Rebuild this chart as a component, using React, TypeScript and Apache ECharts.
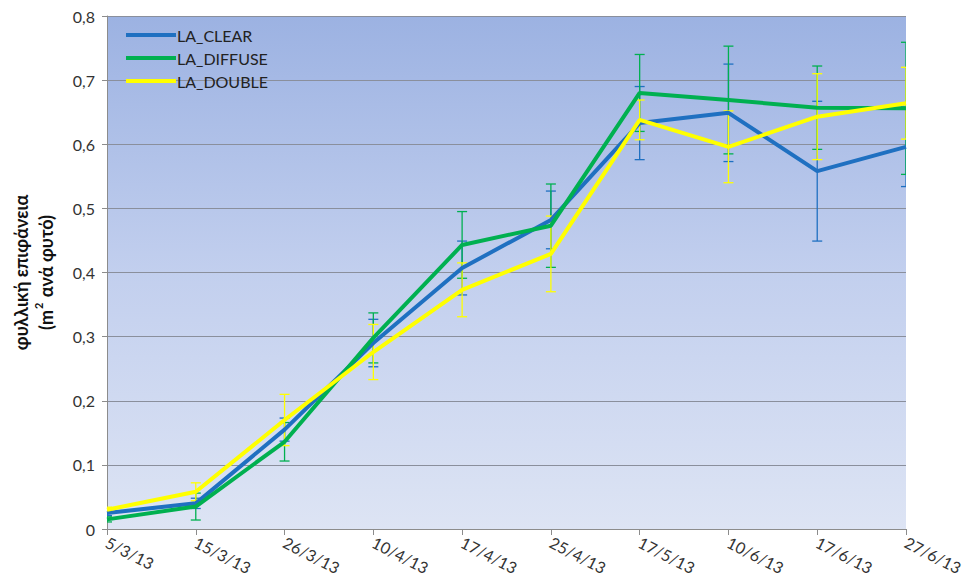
import React, { useEffect, useRef } from "react";
import * as echarts from "echarts";

const dates = ["5/3/13", "15/3/13", "26/3/13", "10/4/13", "17/4/13", "25/4/13", "17/5/13", "10/6/13", "17/6/13", "27/6/13"];
const laClear = [0.025, 0.04, 0.155, 0.29, 0.407, 0.482, 0.633, 0.649, 0.558, 0.596];
const laDiffuse = [0.015, 0.035, 0.136, 0.298, 0.443, 0.473, 0.68, 0.669, 0.657, 0.656];
const laDouble = [0.03, 0.058, 0.17, 0.276, 0.373, 0.429, 0.638, 0.596, 0.643, 0.664];
const errClear = [0.004, 0.008, 0.018, 0.037, 0.042, 0.045, 0.057, 0.076, 0.109, 0.062];
const errDiffuse = [0.004, 0.021, 0.03, 0.039, 0.052, 0.065, 0.06, 0.084, 0.065, 0.103];
const errDouble = [0.004, 0.014, 0.04, 0.043, 0.042, 0.059, 0.031, 0.056, 0.067, 0.056];
const yTicks = { min: 0, max: 0.8, interval: 0.1 };

const BLUE = "#1f70c1";
const GREEN = "#00b050";
const YELLOW = "#ffff00";

function errSeries(name: string, vals: number[], errs: number[], color: string) {
  return {
    type: "custom",
    name: name + "_err",
    clip: true,
    silent: true,
    encode: { x: 0, y: [1, 2] },
    data: vals.map((v, i) => [i, v - errs[i], v + errs[i]]),
    renderItem: (params: any, api: any) => {
      const x = api.value(0);
      const lo = api.coord([x, api.value(1)]);
      const hi = api.coord([x, api.value(2)]);
      const w = 5;
      const style = { stroke: color, lineWidth: 1.3 };
      return {
        type: "group",
        children: [
          { type: "line", shape: { x1: lo[0], y1: lo[1], x2: hi[0], y2: hi[1] }, style },
          { type: "line", shape: { x1: lo[0] - w, y1: lo[1], x2: lo[0] + w, y2: lo[1] }, style },
          { type: "line", shape: { x1: hi[0] - w, y1: hi[1], x2: hi[0] + w, y2: hi[1] }, style },
        ],
      };
    },
  };
}

function lineSeries(name: string, vals: number[], color: string) {
  return {
    type: "line",
    name,
    data: vals,
    symbol: "none",
    lineStyle: { color, width: 4 },
    itemStyle: { color },
  };
}

export default function App() {
  const ref = useRef<HTMLDivElement>(null);
  useEffect(() => {
    if (!ref.current) return;
    const chart = echarts.init(ref.current, undefined, { renderer: "svg" });
    const font = "Lato, 'Open Sans', sans-serif";
    chart.setOption({
      animation: false,
      textStyle: { fontFamily: font },
      grid: {
        left: 107,
        right: 61,
        top: 16,
        bottom: 54,
        show: true,
        borderWidth: 0,
        backgroundColor: new echarts.graphic.LinearGradient(0, 0, 0, 1, [
          { offset: 0, color: "#9cb2e2" },
          { offset: 0.5, color: "#c2cfee" },
          { offset: 1, color: "#dde4f4" },
        ]),
      },
      legend: {
        orient: "vertical",
        left: 121,
        top: 21,
        itemWidth: 50,
        itemHeight: 4,
        itemGap: 5,
        icon: "rect",
        data: ["LA_CLEAR", "LA_DIFFUSE", "LA_DOUBLE"],
        textStyle: { fontFamily: font, fontSize: 16, color: "#222", padding: [0, 0, 0, -4], lineHeight: 18 },
      },
      xAxis: {
        type: "category",
        data: dates,
        boundaryGap: false,
        axisLine: { lineStyle: { color: "#8c8c8c", width: 1 } },
        axisTick: { show: true, alignWithLabel: true, length: 6, lineStyle: { color: "#8c8c8c" } },
        axisLabel: { rotate: -27, fontSize: 16, color: "#333", margin: 12, fontFamily: font },
        splitLine: { show: false },
      },
      yAxis: {
        type: "value",
        min: yTicks.min,
        max: yTicks.max,
        interval: yTicks.interval,
        axisLine: { show: true, lineStyle: { color: "#8c8c8c" } },
        axisTick: { show: true, length: 5, lineStyle: { color: "#8c8c8c" } },
        axisLabel: {
          fontSize: 16,
          color: "#333",
          margin: 12,
          fontFamily: font,
          formatter: (v: number) => (v === 0 ? "0" : v.toFixed(1).replace(".", ",")),
        },
        splitLine: { lineStyle: { color: "#8a8f9c", width: 1 } },
        name: "{a|φυλλική επιφάνεια}\n{a|(m}{s|2}{a| ανά φυτό)}",
        nameLocation: "middle",
        nameGap: 49,
        nameRotate: 90,
        nameTextStyle: {
          rich: {
            a: { fontFamily: font, fontSize: 18, fontWeight: "bold", color: "#111", lineHeight: 25 },
            s: { fontFamily: font, fontSize: 11, fontWeight: "bold", color: "#111", verticalAlign: "top", lineHeight: 25, padding: [0, 1, 6, 1] },
          },
        },
      },
      series: [
        errSeries("LA_CLEAR", laClear, errClear, BLUE),
        lineSeries("LA_CLEAR", laClear, BLUE),
        errSeries("LA_DIFFUSE", laDiffuse, errDiffuse, GREEN),
        lineSeries("LA_DIFFUSE", laDiffuse, GREEN),
        errSeries("LA_DOUBLE", laDouble, errDouble, YELLOW),
        lineSeries("LA_DOUBLE", laDouble, YELLOW),
      ],
    });
    return () => chart.dispose();
  }, []);
  return <div ref={ref} style={{ position: "absolute", left: 0, top: 0, width: 967, height: 583 }} />;
}
